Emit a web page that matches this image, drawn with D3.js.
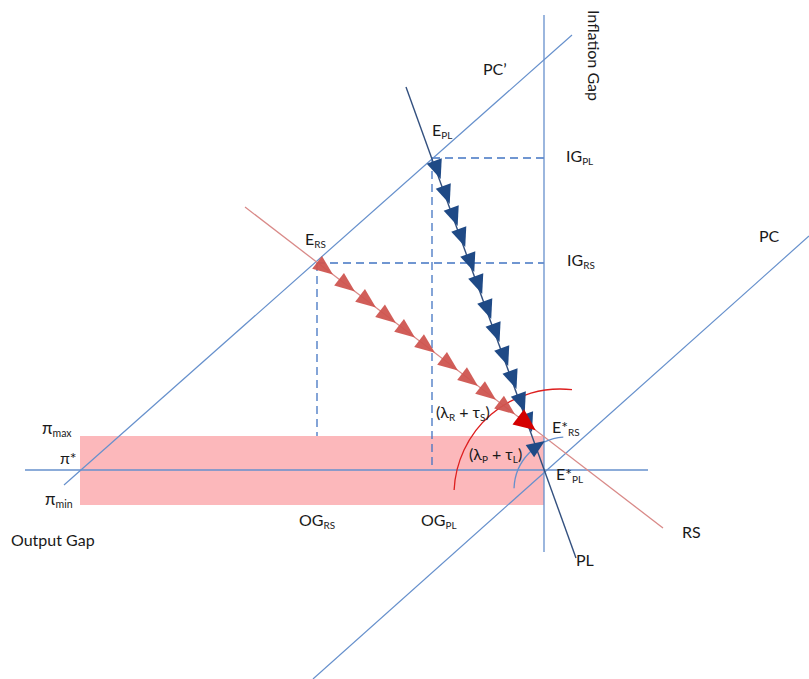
<!DOCTYPE html>
<html>
<head>
<meta charset="utf-8">
<script src="https://cdn.jsdelivr.net/npm/d3@7"></script>
<style>
  html, body { margin: 0; padding: 0; background: #fff; }
  svg text { font-family: Lato, "Open Sans", sans-serif; fill: #1a1a1a; }
</style>
</head>
<body>
<svg id="chart" width="809" height="679"></svg>
<script>
// ---- data (output gap on x, inflation gap on y; E*PL at origin) ----
const axisX = [-51.9, 10.4];          // horizontal axis extent (output gap)
const axisY = [-8.2, 45.5];           // vertical axis extent (inflation gap)
const band = { x0: -46.4, x1: 0, yMax: 3.4, yMin: -3.5 };   // pi_min .. pi_max
const pcPrime = [[-48.0, -1.5], [2.8, 43.5]];
const pcLine  = [[-23.1, -20.9], [26.5, 23.4]];
const plLine  = [[-13.8, 38.3], [3.2, -8.8]];
const rsLine  = [[-29.9, 26.3], [11.9, -5.8]];
const ePL = [-11.2, 31.2];
const eRS = [-22.7, 20.7];
const plArrowY = [30.0, 27.5, 25.3, 23.2, 20.7, 18.5, 16.0, 13.7, 11.3, 9.0, 6.7, 4.7];
const rsArrowX = [-21.9, -19.7, -17.6, -15.6, -13.7, -11.7, -9.4, -7.4, -5.6, -3.7];
const rsBigArrowX = -1.7;
const redArc  = { cx: 1.6, cy: -2.5, r: 10.6, a0: 182.7, a1: 276.5 };
const blueArc = { cx: 2.3, cy: -2.0, r: 5.3, a0: 182.0, a1: 266.0, arrowAt: 236 };

const svg = d3.select("#chart");
const x = d3.scaleLinear().domain([-54.4, 26.5]).range([0, 809]);
const y = d3.scaleLinear().domain([47.0, -20.9]).range([0, 679]);

const C = {
  light: "#6690cc", dash: "#4274c2", pl: "#33507f", plArrow: "#1f4a86",
  rs: "#d98a88", rsArrow: "#cf5550", bigRed: "#d40000", arc: "#dd1f1f", band: "#fcb8bb"
};
const FS = 16;

// band
svg.append("rect")
  .attr("x", x(band.x0)).attr("y", y(band.yMax))
  .attr("width", x(band.x1) - x(band.x0)).attr("height", y(band.yMin) - y(band.yMax))
  .attr("fill", C.band);

function seg(p, color, w, dash) {
  svg.append("line")
    .attr("x1", x(p[0][0])).attr("y1", y(p[0][1]))
    .attr("x2", x(p[1][0])).attr("y2", y(p[1][1]))
    .attr("stroke", color).attr("stroke-width", w)
    .attr("stroke-dasharray", dash || null);
}

// dashed guides
seg([ePL, [0, ePL[1]]], C.dash, 1.3, "8,5");
seg([ePL, [ePL[0], 0]], C.dash, 1.3, "8,5");
seg([eRS, [0, eRS[1]]], C.dash, 1.3, "8,5");
seg([eRS, [eRS[0], band.yMax]], C.dash, 1.3, "8,5");

// axes
seg([[axisX[0], 0], [axisX[1], 0]], C.light, 1.3);
seg([[0, axisY[0]], [0, axisY[1]]], C.light, 1.3);

// Phillips curves
seg(pcPrime, C.light, 1.2);
seg(pcLine, C.light, 1.2);

// RS and PL lines
seg(rsLine, C.rs, 1.3);
seg(plLine, C.pl, 1.4);

// arcs
function arcPath(a) {
  const p = d3.path();
  const r = x(a.r) - x(0);
  p.arc(x(a.cx), y(a.cy), r, a.a0 * Math.PI / 180, a.a1 * Math.PI / 180, false);
  return p.toString();
}
svg.append("path").attr("d", arcPath(redArc)).attr("fill", "none").attr("stroke", C.arc).attr("stroke-width", 1.3);
svg.append("path").attr("d", arcPath(blueArc)).attr("fill", "none").attr("stroke", C.light).attr("stroke-width", 1.3);

// triangles
function tri(cx, cy, ux, uy, L, W, color, op) {
  const nx = -uy, ny = ux;
  const pts = [
    [cx + ux * L * 0.5, cy + uy * L * 0.5],
    [cx - ux * L * 0.5 + nx * W / 2, cy - uy * L * 0.5 + ny * W / 2],
    [cx - ux * L * 0.5 - nx * W / 2, cy - uy * L * 0.5 - ny * W / 2]
  ];
  svg.append("path").attr("d", "M" + pts.map(p => p.join(",")).join("L") + "Z")
    .attr("fill", color).attr("fill-opacity", op || 1);
}
function unit(line) {
  const dx = x(line[1][0]) - x(line[0][0]), dy = y(line[1][1]) - y(line[0][1]);
  const l = Math.hypot(dx, dy);
  return [dx / l, dy / l];
}
function lineXatY(line, yy) {
  const [[x0, y0], [x1, y1]] = line;
  return x0 + (yy - y0) * (x1 - x0) / (y1 - y0);
}
function lineYatX(line, xx) {
  const [[x0, y0], [x1, y1]] = line;
  return y0 + (xx - x0) * (y1 - y0) / (x1 - x0);
}
const uPL = unit(plLine), uRS = unit(rsLine);
plArrowY.forEach(v => tri(x(lineXatY(plLine, v)) + 1.5, y(v), uPL[0], uPL[1], 19, 16, C.plArrow));
rsArrowX.forEach(v => tri(x(v), y(lineYatX(rsLine, v)), uRS[0], uRS[1], 20, 16, C.rsArrow, 0.95));
tri(x(rsBigArrowX), y(lineYatX(rsLine, rsBigArrowX)), uRS[0], uRS[1], 22, 19, C.bigRed);
// arrowhead on the blue arc
{
  const a = blueArc.arrowAt * Math.PI / 180, r = x(blueArc.r) - x(0);
  const cx = x(blueArc.cx) + r * Math.cos(a), cy = y(blueArc.cy) + r * Math.sin(a);
  tri(cx, cy, -Math.sin(a), Math.cos(a), 18, 15, C.plArrow);
}

// labels: parts = [[text, isSub], ...]
function label(px, py, parts, size) {
  const s = size || FS;
  const t = svg.append("text").attr("x", px).attr("y", py).attr("font-size", s);
  let sub = false;
  parts.forEach(([txt, isSub]) => {
    const ts = t.append("tspan").text(txt);
    if (isSub) ts.attr("font-size", s * 0.62);
    if (isSub !== sub) ts.attr("dy", isSub ? 3 : -3);
    sub = isSub;
  });
  return t;
}
label(432, 139, [["E"], ["PL", true]]);
label(566, 165, [["IG"], ["PL", true]]);
label(305, 248, [["E"], ["RS", true]]);
label(567, 269, [["IG"], ["RS", true]]);
label(483, 78, [["PC\u2019"]]);
label(759, 245, [["PC"]]);
label(42, 437, [["\u03c0"], ["max", true]], 17);
label(60, 467, [["\u03c0*"]], 16);
label(45, 508, [["\u03c0"], ["min", true]], 17);
label(11, 549, [["Output Gap"]]);
label(299, 529, [["OG"], ["RS", true]]);
label(421, 529, [["OG"], ["PL", true]]);
label(552, 436, [["E*"], ["RS", true]]);
label(556, 483, [["E*"], ["PL", true]]);
label(682, 541, [["RS"]]);
label(576, 569, [["PL"]]);
label(436, 421, [["(\u03bb"], ["R", true], [" + \u03c4"], ["S", true], [")"]]);
label(469, 463, [["(\u03bb"], ["P", true], [" + \u03c4"], ["L", true], [")"]]);
svg.append("text").attr("transform", "translate(588,10) rotate(90)").attr("font-size", FS).text("Inflation Gap");
</script>
</body>
</html>
